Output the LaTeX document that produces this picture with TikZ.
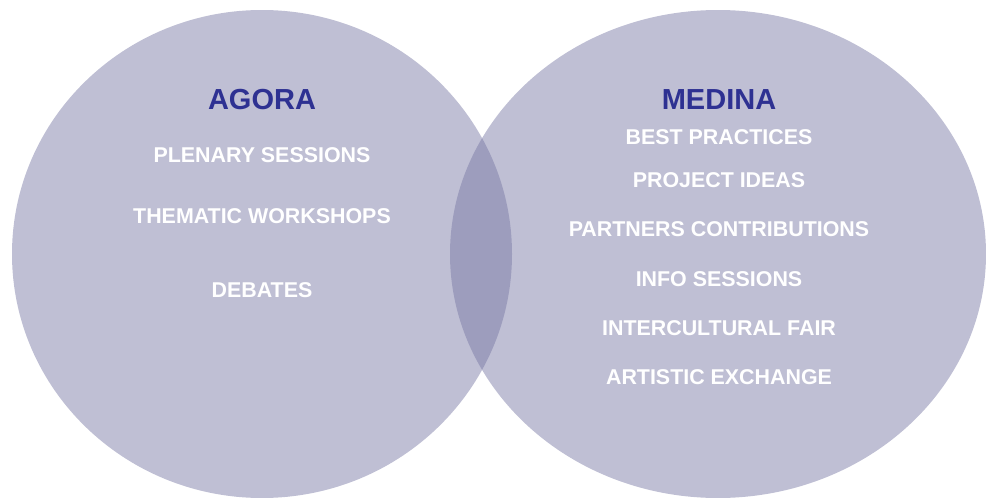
\documentclass[tikz,border=0pt]{standalone}
\usepackage{fontspec}
\setmainfont{Liberation Sans}
\definecolor{ellc}{RGB}{119,119,163}
\definecolor{titlec}{RGB}{46,49,146}
\begin{document}
\begin{tikzpicture}[x=1pt,y=-1pt,
  blob/.style={fill=ellc,fill opacity=0.47,draw=none},
  ttl/.style={anchor=base,inner sep=0pt,text=titlec,font=\fontsize{29}{30}\selectfont\bfseries},
  itm/.style={anchor=base,inner sep=0pt,text=white,font=\fontsize{21.4}{22}\selectfont\bfseries}]
\useasboundingbox (0,0) rectangle (986,498);
\fill[blob] (262,254) ellipse [x radius=250, y radius=244];
\fill[blob] (718,254) ellipse [x radius=268, y radius=244];
\node[ttl] (agora) at (262,109) {AGORA};
\node[itm] (plen) at (262,162) {PLENARY SESSIONS};
\node[itm] (them) at (262,223) {THEMATIC WORKSHOPS};
\node[itm] (deb) at (262,297) {DEBATES};
\node[ttl] (medina) at (719,109) {MEDINA};
\node[itm] (best) at (719,144) {BEST PRACTICES};
\node[itm] (proj) at (719,187) {PROJECT IDEAS};
\node[itm] (part) at (719,236) {PARTNERS CONTRIBUTIONS};
\node[itm] (info) at (719,286) {INFO SESSIONS};
\node[itm] (inter) at (719,335) {INTERCULTURAL FAIR};
\node[itm] (art) at (719,384) {ARTISTIC EXCHANGE};
\end{tikzpicture}
\end{document}
